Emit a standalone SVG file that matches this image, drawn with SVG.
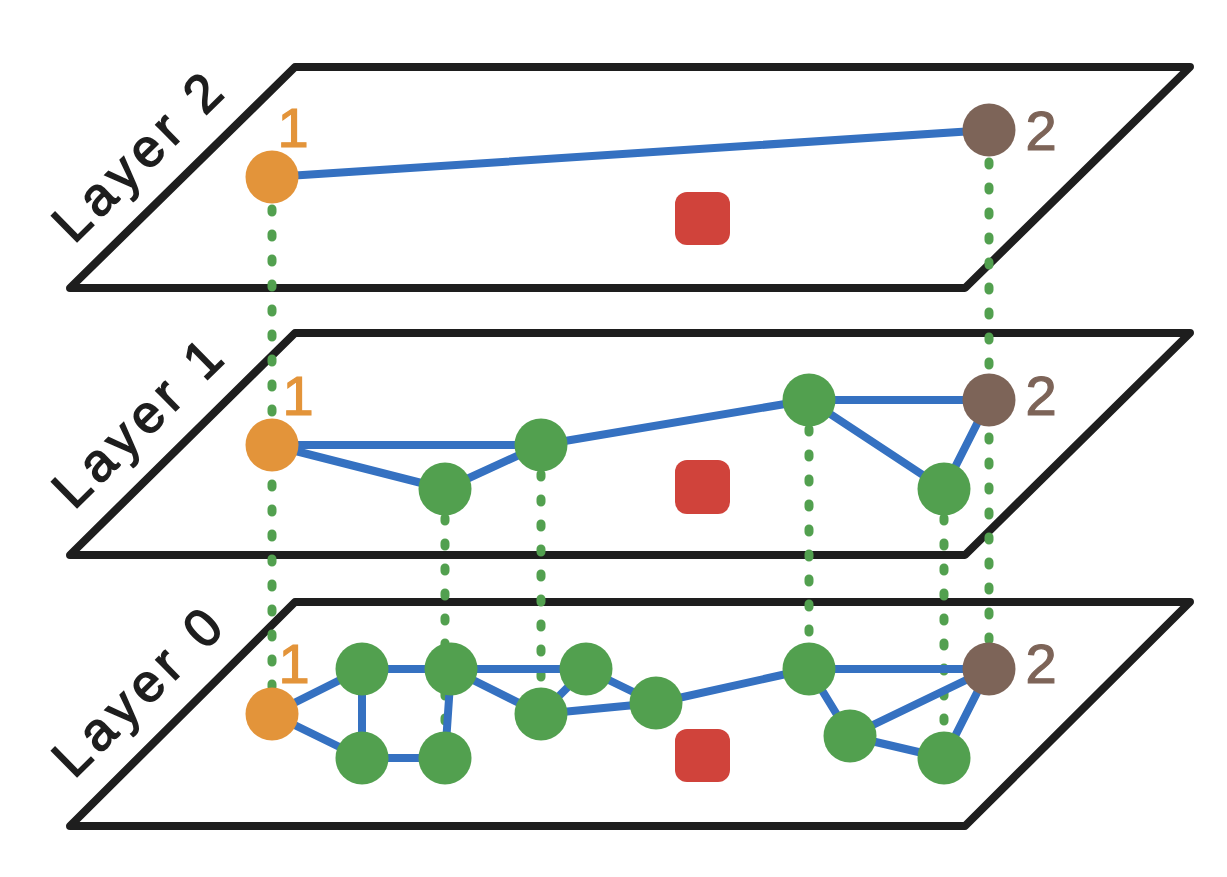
<svg xmlns="http://www.w3.org/2000/svg" width="1227" height="877" viewBox="0 0 1227 877">
<style>
.layer{fill:none;stroke:#1e1e1e;stroke-width:8;stroke-linejoin:round;stroke-linecap:round}
.dot{fill:none;stroke:#52a04f;stroke-width:9;stroke-linecap:round;stroke-dasharray:3 22}
.edge{fill:none;stroke:#3571c1;stroke-width:8;stroke-linecap:round}
.g{fill:#52a04f}
.o{fill:#e3943a}
.b{fill:#7d6458}
.red{fill:#d0433b}
.lbl{font-family:"Liberation Sans",Arial,sans-serif;font-size:53px;fill:#1e1e1e;stroke:#1e1e1e;stroke-width:1.6;letter-spacing:6px;text-anchor:middle}
.n1{font-family:"Liberation Sans",Arial,sans-serif;font-size:56px;fill:#e3943a;stroke:#e3943a;stroke-width:1.2;text-anchor:middle}
.n2{font-family:"Liberation Sans",Arial,sans-serif;font-size:56px;fill:#7d6458;stroke:#7d6458;stroke-width:1.2;text-anchor:middle}
</style>
<rect width="1227" height="877" fill="#ffffff"/>
<g id="layers">
<polygon class="layer" points="295,67 1190,67 965,288 70,288"/>
<polygon class="layer" points="295,333 1190,333 965,555 70,555"/>
<polygon class="layer" points="295,602 1190,602 965,826 70,826"/>
<text class="lbl" transform="translate(152,168) rotate(-44.5)">Layer 2</text>
<text class="lbl" transform="translate(152,434) rotate(-44.5)">Layer 1</text>
<text class="lbl" transform="translate(152,703) rotate(-44.5)">Layer 0</text>
</g>
<g id="obstacles">
<rect class="red" x="675" y="192" width="55" height="53" rx="12"/>
<rect class="red" x="675" y="460" width="55" height="54" rx="12"/>
<rect class="red" x="675" y="729" width="55" height="53" rx="12"/>
</g>
<g id="connectors">
<line class="dot" x1="272" y1="209" x2="272" y2="690"/>
<line class="dot" x1="989" y1="162" x2="989" y2="645"/>
<line class="dot" x1="445" y1="518" x2="445" y2="735"/>
<line class="dot" x1="541" y1="474" x2="541" y2="690"/>
<line class="dot" x1="809" y1="429" x2="809" y2="645"/>
<line class="dot" x1="944" y1="518" x2="944" y2="735"/>
<line class="edge" x1="272" y1="177" x2="989" y2="130"/>
<line class="edge" x1="272" y1="445" x2="541" y2="445"/>
<line class="edge" x1="272" y1="445" x2="445" y2="489"/>
<line class="edge" x1="445" y1="489" x2="541" y2="445"/>
<line class="edge" x1="541" y1="445" x2="809" y2="400"/>
<line class="edge" x1="809" y1="400" x2="989" y2="400"/>
<line class="edge" x1="809" y1="400" x2="944" y2="489"/>
<line class="edge" x1="944" y1="489" x2="989" y2="400"/>
<line class="edge" x1="272" y1="714" x2="362" y2="669"/>
<line class="edge" x1="272" y1="714" x2="362" y2="758"/>
<line class="edge" x1="362" y1="669" x2="362" y2="758"/>
<line class="edge" x1="362" y1="669" x2="451" y2="669"/>
<line class="edge" x1="362" y1="758" x2="445" y2="758"/>
<line class="edge" x1="451" y1="669" x2="445" y2="758"/>
<line class="edge" x1="451" y1="669" x2="586" y2="669"/>
<line class="edge" x1="451" y1="669" x2="541" y2="714"/>
<line class="edge" x1="541" y1="714" x2="586" y2="669"/>
<line class="edge" x1="541" y1="714" x2="656" y2="703"/>
<line class="edge" x1="586" y1="669" x2="656" y2="703"/>
<line class="edge" x1="656" y1="703" x2="809" y2="669"/>
<line class="edge" x1="809" y1="669" x2="989" y2="669"/>
<line class="edge" x1="809" y1="669" x2="850" y2="736"/>
<line class="edge" x1="850" y1="736" x2="989" y2="669"/>
<line class="edge" x1="850" y1="736" x2="944" y2="758"/>
<line class="edge" x1="944" y1="758" x2="989" y2="669"/>
</g>
<g id="l2-n1"><circle class="o" cx="272" cy="177" r="26.5"/><text class="n1" x="293" y="147">1</text></g>
<g id="l2-n2"><circle class="b" cx="989" cy="130" r="26.5"/><text class="n2" x="1041" y="150">2</text></g>
<g id="l1-n1"><circle class="o" cx="272" cy="445" r="26.5"/><text class="n1" x="298" y="415">1</text></g>
<g id="l1-a"><circle class="g" cx="445" cy="489" r="26.5"/></g>
<g id="l1-b"><circle class="g" cx="541" cy="445" r="26.5"/></g>
<g id="l1-c"><circle class="g" cx="809" cy="400" r="26.5"/></g>
<g id="l1-d"><circle class="g" cx="944" cy="489" r="26.5"/></g>
<g id="l1-n2"><circle class="b" cx="989" cy="400" r="26.5"/><text class="n2" x="1041" y="415">2</text></g>
<g id="l0-n1"><circle class="o" cx="272" cy="714" r="26.5"/><text class="n1" x="294" y="683">1</text></g>
<g id="l0-a"><circle class="g" cx="362" cy="669" r="26.5"/></g>
<g id="l0-b"><circle class="g" cx="362" cy="758" r="26.5"/></g>
<g id="l0-c"><circle class="g" cx="451" cy="669" r="26.5"/></g>
<g id="l0-d"><circle class="g" cx="445" cy="758" r="26.5"/></g>
<g id="l0-e"><circle class="g" cx="541" cy="714" r="26.5"/></g>
<g id="l0-f"><circle class="g" cx="586" cy="669" r="26.5"/></g>
<g id="l0-g"><circle class="g" cx="656" cy="703" r="26.5"/></g>
<g id="l0-h"><circle class="g" cx="809" cy="669" r="26.5"/></g>
<g id="l0-i"><circle class="g" cx="850" cy="736" r="26.5"/></g>
<g id="l0-j"><circle class="g" cx="944" cy="758" r="26.5"/></g>
<g id="l0-n2"><circle class="b" cx="989" cy="669" r="26.5"/><text class="n2" x="1041" y="683">2</text></g>
</svg>
